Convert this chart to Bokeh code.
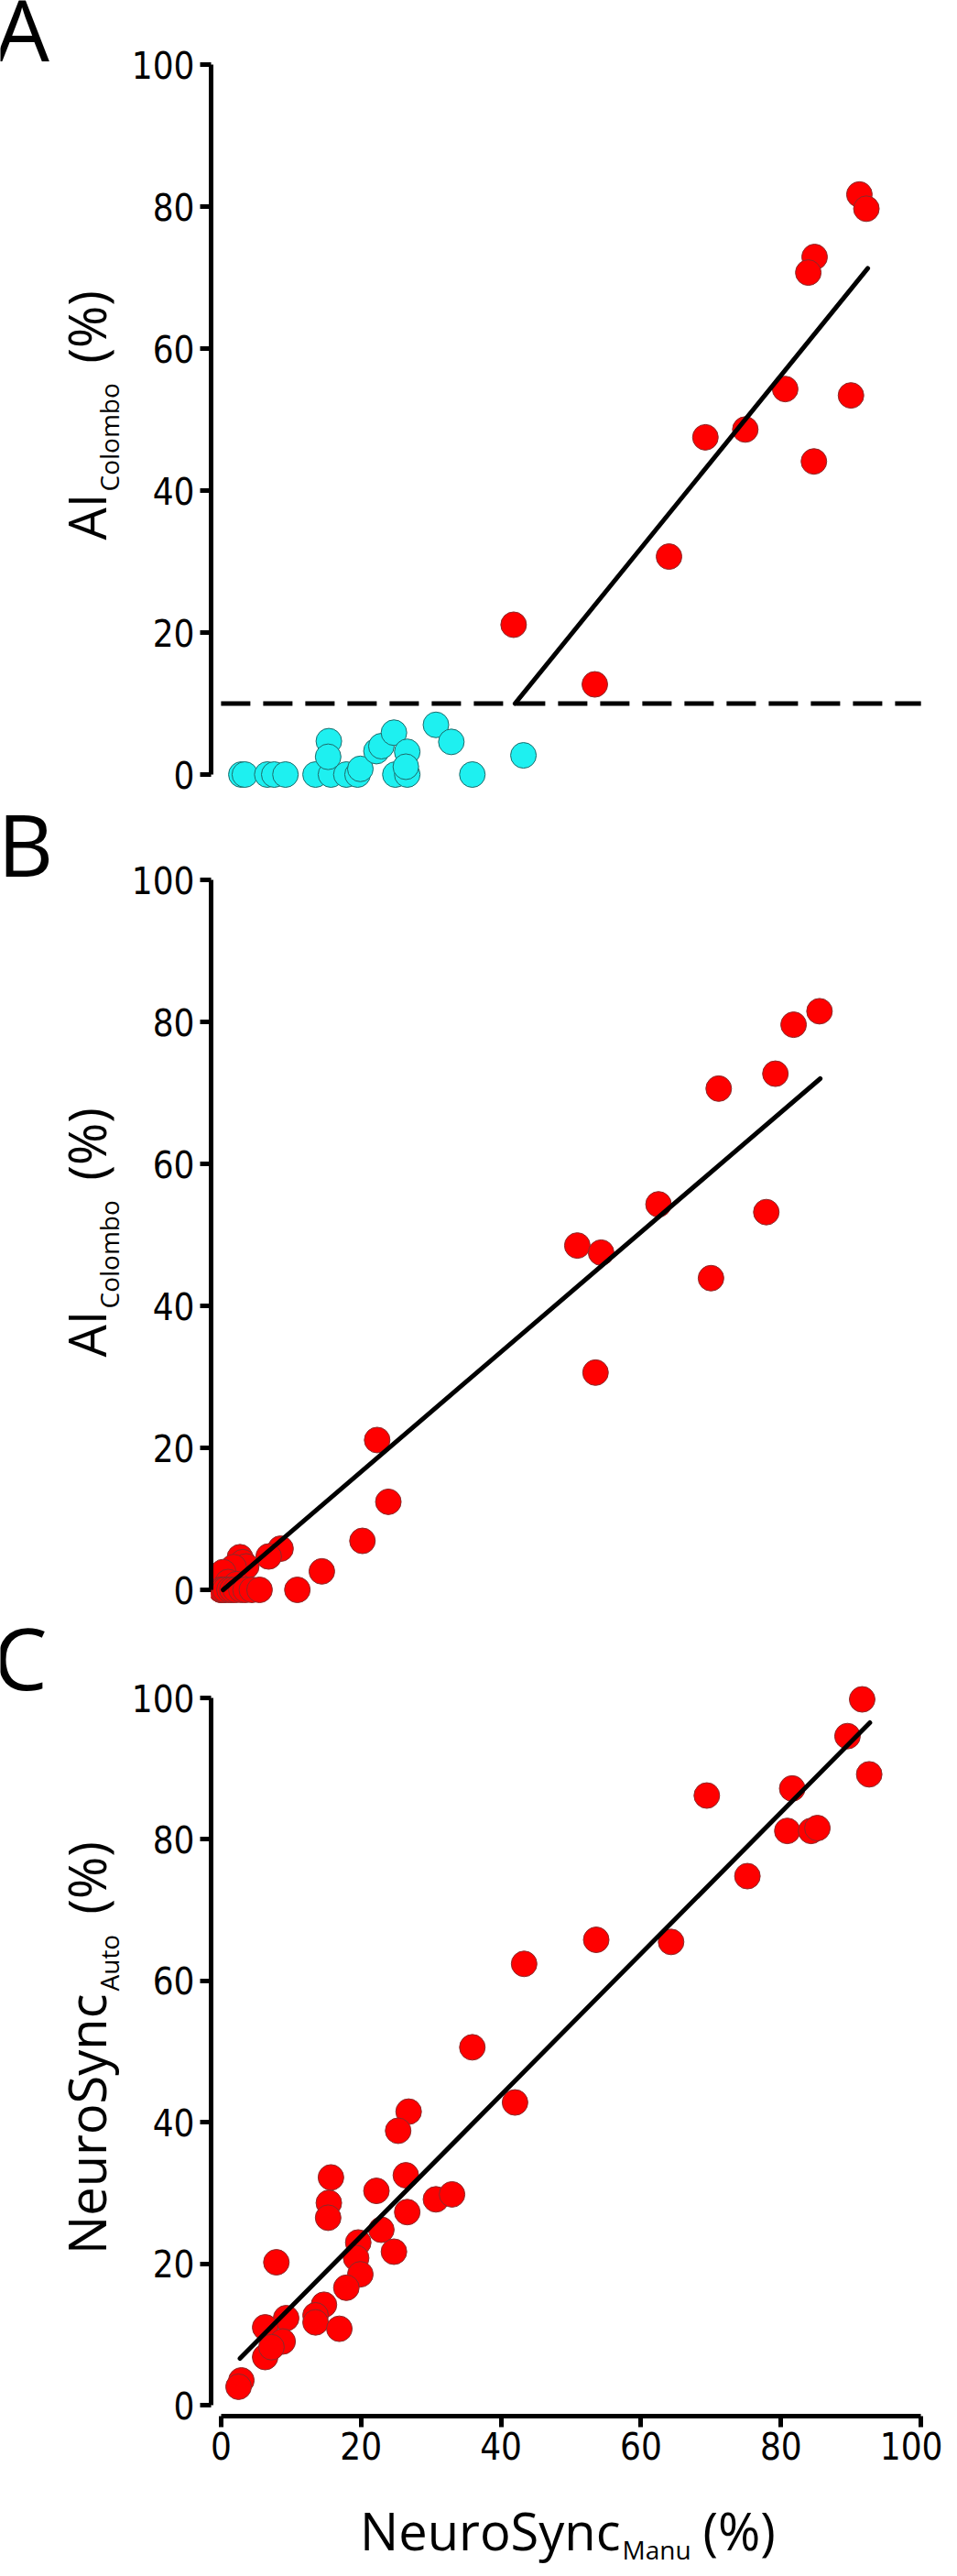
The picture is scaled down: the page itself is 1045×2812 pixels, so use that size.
import math
from bokeh.plotting import figure
from bokeh.models import Label, FixedTicker, Range1d
from bokeh.layouts import column, row
from bokeh.embed import file_html
from bokeh.resources import INLINE

# ---------------- data ----------------
# Panel A: NeuroSync_Manu (x) vs AI_Colombo (y)
a_red_x = [91.2, 92.2, 84.8, 83.9, 80.6, 90.0, 74.9, 69.2, 84.7, 64.0, 41.8, 53.4]
a_red_y = [81.7, 79.7, 72.9, 70.7, 54.3, 53.4, 48.6, 47.5, 44.1, 30.7, 21.1, 12.7]
a_cyan_x = [2.9, 3.4, 6.6, 7.6, 9.2, 13.5, 15.7, 17.9, 19.5, 24.9, 26.6, 35.9,
            19.9, 15.4, 15.3, 22.2, 22.9, 24.7, 26.6, 26.4, 30.7, 32.9, 43.2]
a_cyan_y = [0, 0, 0, 0, 0, 0, 0, 0, 0, 0, 0, 0,
            0.8, 4.7, 2.5, 3.3, 4.0, 5.9, 3.2, 1.1, 7.0, 4.6, 2.7]
a_fit_x = [42.0, 92.4]
a_fit_y = [10.0, 71.3]
a_thresh_x = [0, 100]
a_thresh_y = [10, 10]

# Panel B
b_x = [85.5, 81.8, 79.2, 71.1, 62.5, 77.9, 50.9, 54.3, 70.0, 53.5, 22.3, 23.9,
       20.2, 8.5, 6.8, 2.7, 3.1, 3.6, 1.8, 14.4, 0.3, 1.0, 2.2,
       0.0, 0.0, 0.3, 0.6, 1.2, 1.6, 2.1, 2.9, 3.5, 4.4, 5.5, 10.9]
b_y = [81.5, 79.6, 72.7, 70.6, 54.3, 53.2, 48.5, 47.5, 43.9, 30.6, 21.1, 12.4,
       6.9, 5.8, 4.7, 4.6, 3.9, 3.3, 3.2, 2.6, 2.5, 1.1, 0.8,
       0, 0, 0, 0, 0, 0, 0, 0, 0, 0, 0, 0]
b_fit_x = [0.3, 85.6]
b_fit_y = [0.0, 72.0]

# Panel C: NeuroSync_Manu (x) vs NeuroSync_Auto (y)
c_x = [91.6, 89.5, 92.6, 81.6, 69.4, 80.9, 84.3, 85.2, 75.2, 53.6,
       64.3, 43.3, 35.9, 42.0, 26.8, 25.3, 15.7, 22.2, 26.4, 30.7,
       33.0, 15.4, 15.3, 26.6, 22.9, 19.6, 19.3, 24.7, 7.9, 19.9,
       17.9, 14.7, 13.5, 13.5, 16.9, 9.3, 6.3, 8.8, 6.3, 7.2,
       2.9, 2.5]
c_y = [99.8, 94.6, 89.2, 87.2, 86.2, 81.2, 81.2, 81.6, 74.8, 65.8,
       65.5, 62.4, 50.6, 42.8, 41.5, 38.8, 32.2, 30.3, 32.5, 29.1,
       29.8, 28.6, 26.5, 27.3, 24.8, 23.0, 20.8, 21.7, 20.2, 18.5,
       16.6, 14.2, 12.7, 11.7, 10.8, 12.3, 11.0, 9.0, 6.8, 8.2,
       3.5, 2.6]
c_fit_x = [2.7, 92.7]
c_fit_y = [6.6, 96.5]

ticks = [0, 20, 40, 60, 80, 100]
panel_letters = ["A", "B", "C"]
y_label_main = ["AI", "AI", "NeuroSync"]
y_label_sub = ["Colombo", "Colombo", "Auto"]
x_label_main = "NeuroSync"
x_label_sub = "Manu"

# ---------------- layout (page pixels) ----------------
TOTAL_W = 1029
PAGE_L = 8          # page x of the layout's left edge
PAGE_T = 0          # page y of the layout's top edge
LBL_W = 140         # width of the left text column
X0_PX, X_SCALE = 241.0, 7.72
FRAME_L, FRAME_R = 230, 1030
TICK_FONT = "'Liberation Sans Narrow', 'Arial Narrow', 'DejaVu Sans Condensed', sans-serif"
LABEL_FONT = "Open Sans"
LETTER_FONT = "Open Sans"
DESC = 0.24
RED, RED_EDGE = "#ff0000", "#8a2a2a"
CYAN, CYAN_EDGE = "#1ef0f0", "#1d6a6a"
YLAB_X, YSUB_X = 126, 139     # baselines of the rotated y titles


def clean(p):
    p.grid.visible = False
    p.outline_line_color = None
    p.background_fill_color = "white"
    p.border_fill_color = "white"
    try:
        p.frame_align = False
    except Exception:
        pass


def text_fig(left, top, width, height, frame_top=None, frame_bottom=None):
    """A bare figure whose data coordinates are page pixels (y downwards).
    Its frame matches the neighbouring plot's frame so that aligned layouts keep the mapping."""
    ft = top if frame_top is None else frame_top
    fb = top + height if frame_bottom is None else frame_bottom
    f = figure(width=width, height=height, output_backend="svg", toolbar_location=None,
               title=None,
               x_range=Range1d(left, left + width), y_range=Range1d(fb, ft),
               x_axis_location=None, y_axis_location=None,
               min_border_left=0, min_border_right=0,
               min_border_top=ft - top, min_border_bottom=top + height - fb)
    clean(f)
    return f


def add_text(f, x, y, text, size, font, rotated=False, align="left"):
    """(x, y) is the point on the text baseline (page px); the label box is anchored by its bottom."""
    d = DESC * size
    if rotated:
        x, angle = x + d, math.pi / 2
    else:
        y, angle = y + d, 0.0
    f.add_layout(Label(x=x, y=y, text=text, text_font=font, text_font_size=f"{size}px",
                       text_color="black", text_align=align, text_baseline="bottom",
                       angle=angle))


def make_panel(top, height, y0_px, y100_px, frame_top, frame_bottom, show_x):
    left = PAGE_L + LBL_W
    width = TOTAL_W - LBL_W
    s = (y0_px - y100_px) / 100.0
    p = figure(width=width, height=height, output_backend="svg", toolbar_location=None,
               title=None,
               x_range=Range1d((FRAME_L - X0_PX) / X_SCALE, (FRAME_R - X0_PX) / X_SCALE),
               y_range=Range1d((y0_px - frame_bottom) / s, (y0_px - frame_top) / s),
               x_axis_location="below" if show_x else None,
               min_border_left=FRAME_L - left, min_border_right=left + width - FRAME_R,
               min_border_top=frame_top - top, min_border_bottom=top + height - frame_bottom)
    clean(p)
    axes = list(p.yaxis) + (list(p.xaxis) if show_x else [])
    for ax in axes:
        ax.ticker = FixedTicker(ticks=ticks)
        ax.bounds = (0, 100)
        ax.axis_line_width = 5
        ax.axis_line_color = "black"
        ax.major_tick_line_width = 5
        ax.major_tick_line_color = "black"
        ax.major_tick_in = 0
        ax.major_tick_out = 12
        ax.minor_tick_line_color = None
        ax.major_label_text_font = TICK_FONT
        ax.major_label_text_font_size = "40px"
        ax.major_label_text_color = "black"
    p.yaxis.major_label_standoff = 6
    if show_x:
        p.xaxis.major_label_standoff = 5
    return p


def side_column(top, height, frame_top, frame_bottom, letter, letter_x, letter_base,
                main, sub, main_end, sub_start, pct_start):
    f = text_fig(PAGE_L, top, LBL_W, height, frame_top, frame_bottom)
    add_text(f, letter_x, letter_base, letter, 94, LETTER_FONT)
    # main text ends where the subscript begins (reading bottom -> top)
    add_text(f, YLAB_X, main_end, main, 56, LABEL_FONT, rotated=True, align="right")
    add_text(f, YSUB_X, sub_start, sub, 28, LABEL_FONT, rotated=True)
    add_text(f, YLAB_X, pct_start, "(%)", 56, LABEL_FONT, rotated=True)
    return f


# ---- Panel A ----
A_TOP, A_H = PAGE_T, 880
A_FT, A_FB = A_TOP, A_TOP + A_H
pA = make_panel(A_TOP, A_H, 845, 70, A_FT, A_FB, False)
pA.scatter(a_cyan_x, a_cyan_y, size=28, marker="circle", fill_color=CYAN, line_color=CYAN_EDGE, line_width=1)
pA.scatter(a_red_x, a_red_y, size=28, marker="circle", fill_color=RED, line_color=RED_EDGE, line_width=1)
pA.line(a_thresh_x, a_thresh_y, line_width=5, line_color="black", line_dash="32 14")
pA.line(a_fit_x, a_fit_y, line_width=5, line_color="black", line_cap="round")
sA = side_column(A_TOP, A_H, A_FT, A_FB, panel_letters[0], 2, 72,
                 y_label_main[0], y_label_sub[0], 538, 536, 396)

# ---- Panel B ----
B_TOP, B_H = A_TOP + A_H, 880
B_FT, B_FB = B_TOP, B_TOP + B_H
pB = make_panel(B_TOP, B_H, 1735, 960, B_FT, B_FB, False)
pB.scatter(b_x, b_y, size=28, marker="circle", fill_color=RED, line_color=RED_EDGE, line_width=1)
pB.line(b_fit_x, b_fit_y, line_width=5, line_color="black", line_cap="round")
sB = side_column(B_TOP, B_H, B_FT, B_FB, panel_letters[1], 5, 962,
                 y_label_main[1], y_label_sub[1], 1430, 1428, 1288)

# ---- Panel C ----
C_TOP, C_H = B_TOP + B_H, 952
C_FT, C_FB = C_TOP, 2637
pC = make_panel(C_TOP, C_H, 2625, 1853, C_FT, C_FB, True)
pC.scatter(c_x, c_y, size=28, marker="circle", fill_color=RED, line_color=RED_EDGE, line_width=1)
pC.line(c_fit_x, c_fit_y, line_width=5, line_color="black", line_cap="round")
sC = side_column(C_TOP, C_H, C_FT, C_FB, panel_letters[2], 0, 1850,
                 y_label_main[2], y_label_sub[2], 2176, 2173, 2089)

# ---- x axis title (with subscript) under panel C ----
X_TOP = C_TOP + C_H
X_H = 2804 - X_TOP
fx = text_fig(PAGE_L, X_TOP, TOTAL_W, X_H)
add_text(fx, 685, 2786, x_label_main, 56, LABEL_FONT, align="right")
add_text(fx, 687, 2795, x_label_sub, 28, LABEL_FONT)
add_text(fx, 775, 2786, "(%)", 56, LABEL_FONT)

layout = column(row(sA, pA), row(sB, pB), row(sC, pC), fx)
open("out.html", "w").write(file_html(layout, INLINE))
